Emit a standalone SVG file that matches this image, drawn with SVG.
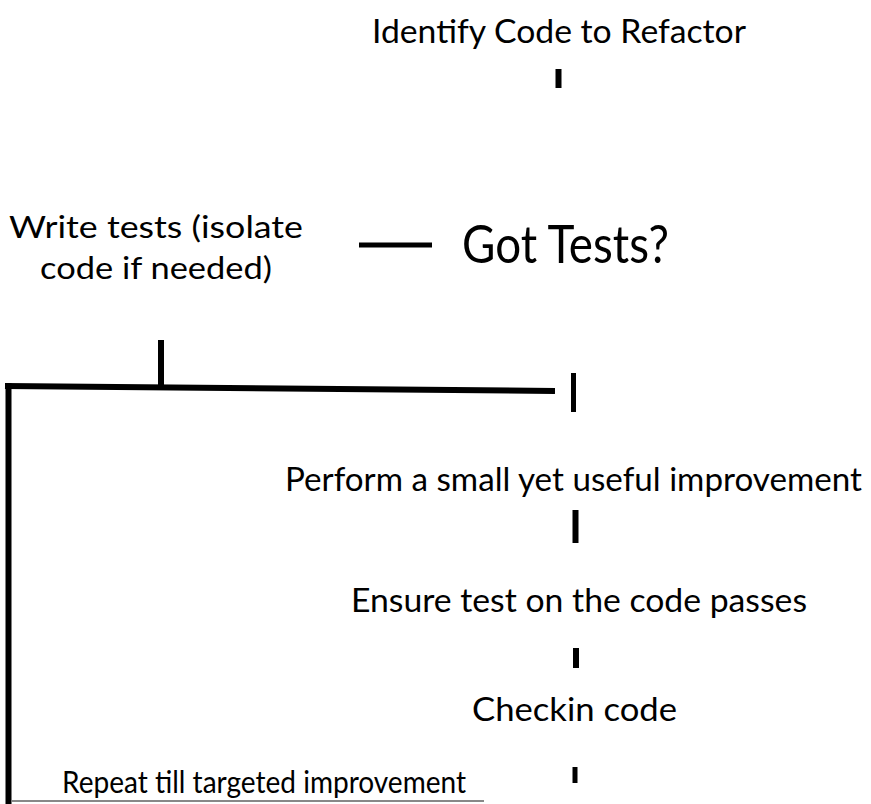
<svg xmlns="http://www.w3.org/2000/svg" width="871" height="804" viewBox="0 0 871 804">
<style>
.t{font-family:"Lato","Open Sans","Liberation Sans",sans-serif;fill:#000}
.c{stroke:#000;fill:none;stroke-linecap:butt}
</style>
<rect width="871" height="804" fill="#fff"/>
<g id="connectors">
<line class="c" x1="558.5" y1="69" x2="558.5" y2="88" stroke-width="6"/>
<line class="c" x1="359" y1="245" x2="432" y2="245" stroke-width="5"/>
<line class="c" x1="161" y1="340" x2="161" y2="388" stroke-width="6"/>
<line class="c" x1="5" y1="386" x2="555" y2="391" stroke-width="6" stroke-linecap="round"/>
<line class="c" x1="8.5" y1="383" x2="8.5" y2="804" stroke-width="6"/>
<line class="c" x1="573.5" y1="373" x2="573.5" y2="412" stroke-width="5"/>
<line class="c" x1="575.5" y1="510" x2="575.5" y2="543" stroke-width="6"/>
<line class="c" x1="576" y1="648" x2="576" y2="668" stroke-width="6"/>
<line class="c" x1="575" y1="767" x2="575" y2="783" stroke-width="5"/>
<line x1="12" y1="801" x2="484" y2="801" stroke="#888" stroke-width="2"/>
</g>
<g id="identify"><text class="t" x="372" y="43" font-size="32" textLength="374" lengthAdjust="spacingAndGlyphs">Identify Code to Refactor</text></g>
<g id="write-tests">
<text class="t" x="9" y="238" font-size="31" textLength="294" lengthAdjust="spacingAndGlyphs">Write tests (isolate</text>
<text class="t" x="40" y="279" font-size="31" textLength="232" lengthAdjust="spacingAndGlyphs">code if needed)</text>
</g>
<g id="got-tests"><text class="t" x="462" y="263" font-size="52" textLength="207" lengthAdjust="spacingAndGlyphs">Got Tests?</text></g>
<g id="perform"><text class="t" x="285" y="491" font-size="32" textLength="577" lengthAdjust="spacingAndGlyphs">Perform a small yet useful improvement</text></g>
<g id="ensure"><text class="t" x="351" y="612" font-size="32" textLength="456" lengthAdjust="spacingAndGlyphs">Ensure test on the code passes</text></g>
<g id="checkin"><text class="t" x="472" y="721" font-size="32" textLength="205" lengthAdjust="spacingAndGlyphs">Checkin code</text></g>
<g id="repeat"><text class="t" x="62" y="793" font-size="30" textLength="404" lengthAdjust="spacingAndGlyphs">Repeat till targeted improvement</text></g>
</svg>
